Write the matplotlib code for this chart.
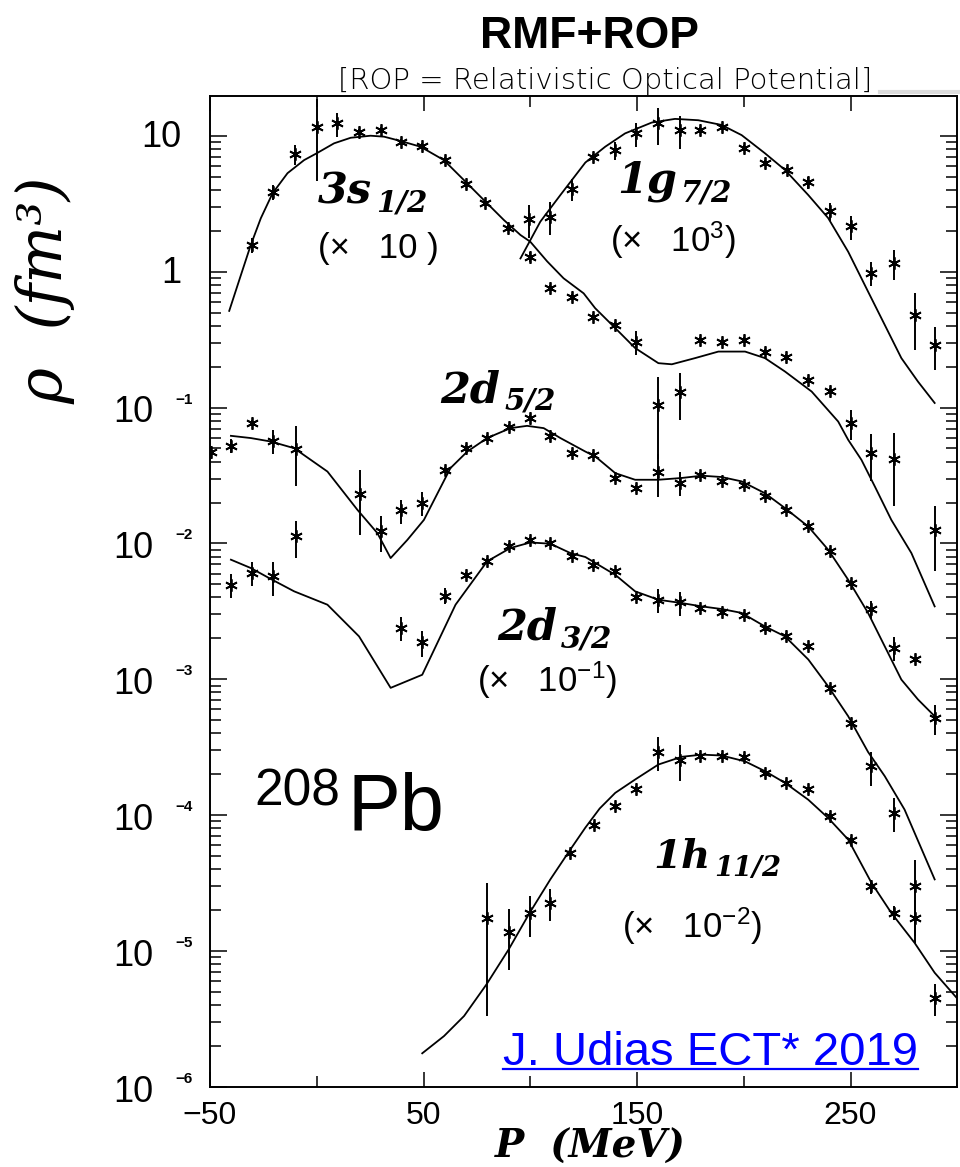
"""Momentum distributions of 208Pb shells: RMF+ROP curves against measured points."""

import matplotlib
matplotlib.use("Agg")
import matplotlib.pyplot as plt
import numpy as np
from matplotlib.lines import Line2D
from matplotlib.ticker import LogLocator, NullFormatter
from matplotlib.transforms import offset_copy

plt.rcParams["font.family"] = ["Liberation Sans", "DejaVu Sans"]
plt.rcParams["mathtext.fontset"] = "custom"
plt.rcParams["mathtext.rm"] = "Liberation Sans"
plt.rcParams["mathtext.it"] = "Liberation Sans:italic"
plt.rcParams["mathtext.bf"] = "Liberation Sans:bold"

# 3s1/2 (x 10)
s12_curve_p = [-41, -35.5, -30.9, -26.2, -20.7, -13.7, -5.9, 0, 8.1, 15.9, 25.2, 31.5, 39.3, 48.6,
               59.5, 68.9, 78.2, 87.6, 95.4, 100, 107.9, 115.6, 125, 130.4, 139.8, 149.1, 160,
               166.3, 177.2, 188.1, 200.6, 209.9, 219.3, 231.8, 244.2, 248.9, 255.1, 261.4, 269.1,
               278.5, 289.4]
s12_curve_rho = [0.514, 0.946, 1.57, 2.47, 3.77, 5.30, 6.62, 7.43, 8.79, 9.66, 10.0, 9.84, 9.14, 8.30,
                 6.62, 4.72, 3.37, 2.40, 1.86, 1.66, 1.19, 0.893, 0.692, 0.538, 0.384, 0.274, 0.212,
                 0.208, 0.231, 0.258, 0.258, 0.231, 0.184, 0.131, 0.0789, 0.0578, 0.0412, 0.0262,
                 0.0149, 0.00849, 0.00344]
s12_pts_p = [-30.5, -20.5, -10.3, 0, 9.4, 19.8, 29.9, 39.3, 49.1, 60, 69.7, 79, 89.6, 99.7, 109.4,
             119.5, 129.6, 139.8, 149.5, 160, 170.2, 179.5, 189.7, 200.2, 209.9, 219.6, 229.9, 240.3,
             250, 259.8, 270.4, 289.4]
s12_pts_rho = [1.57, 3.87, 7.29, 11.6, 12.3, 10.7, 11.0, 9.04, 8.43, 6.62, 4.40, 3.18, 2.11, 1.29,
               0.755, 0.649, 0.467, 0.406, 0.305, 0.105, 0.131, 0.315, 0.305, 0.315, 0.258, 0.237,
               0.160, 0.133, 0.0766, 0.0462, 0.0417, 0.0126]
s12_pts_err = [0.13, 0.13, 0.17, 0.6, 0.2, 0.05, 0.05, 0.05, 0.05, 0.05, 0.05, 0.05, 0.05, 0.08,
               0.05, 0.05, 0.05, 0.05, 0.2, 0.6, 0.38, 0.05, 0.05, 0.05, 0.05, 0.05, 0.05, 0.05,
               0.25, 0.38, 0.55, 0.5]

# 1g7/2 (x 10^3)
g72_curve_p = [95.4, 104.7, 114.1, 125.8, 135.1, 144.4, 156.9, 167.8, 178.7, 189.6, 199, 209.9,
               219.3, 230.2, 239.5, 248.9, 258.2, 266, 273.8, 281.6, 289.4]
g72_curve_rho = [1.25, 2.33, 3.66, 6.35, 8.30, 10.4, 12.5, 13.3, 13.0, 12.0, 10.1, 7.43, 5.60, 3.66,
                 2.48, 1.40, 0.713, 0.406, 0.231, 0.155, 0.108]
g72_pts_p = [99.6, 109.4, 119.5, 129.6, 139.8, 149.5, 160, 170.2, 179.6, 189.6, 200.2, 209.9, 220.1,
             229.9, 240.3, 250, 259.8, 270.4, 280, 289.7]
g72_pts_rho = [2.44, 2.54, 4.04, 7.01, 7.85, 10.4, 12.3, 11.0, 11.0, 11.6, 8.07, 6.27, 5.60, 4.54,
               2.77, 2.15, 0.973, 1.15, 0.481, 0.289]
g72_pts_err = [0.27, 0.27, 0.18, 0.05, 0.15, 0.2, 0.3, 0.28, 0.05, 0.05, 0.05, 0.05, 0.05, 0.1,
               0.15, 0.2, 0.2, 0.25, 0.45, 0.35]

# 2d5/2
d52_curve_p = [-40.2, -30.9, -21.5, -10.6, 5, 19, 28.4, 34.6, 42.4, 50.2, 62.6, 70.5, 79.8, 90.7,
               98.5, 106.3, 114.1, 125.8, 130.4, 139.8, 149.1, 160, 170.9, 180.3, 189.6, 199, 209.9,
               219.3, 230.2, 239.5, 248.9, 258.2, 266, 273.8, 281.6, 289.4]
d52_curve_rho = [0.0619, 0.0596, 0.0562, 0.0502, 0.0338, 0.0177, 0.0119, 0.0078, 0.0106, 0.0149,
                 0.0358, 0.0474, 0.0596, 0.0705, 0.0733, 0.0705, 0.0596, 0.0474, 0.0437, 0.0329,
                 0.0294, 0.0294, 0.0303, 0.0315, 0.0308, 0.0286, 0.0234, 0.0182, 0.0133, 0.0090,
                 0.0054, 0.00308, 0.00175, 0.000995, 0.00071, 0.000535]
d52_pts_p = [-49.5, -40.2, -30.5, -20.7, -9.8, 20.1, 29.9, 39.6, 49.4, 60, 69.7, 79.5, 89.9, 99.7,
             109.4, 119.5, 129.6, 139.8, 149.5, 160, 170.2, 179.5, 189.7, 200.2, 209.9, 219.6,
             229.9, 240.3, 250, 259.8, 270.4, 280, 289.4]
d52_pts_rho = [0.047, 0.0522, 0.0767, 0.0571, 0.0495, 0.0232, 0.01225, 0.0175, 0.0198, 0.0348,
               0.0502, 0.0596, 0.0724, 0.0836, 0.0612, 0.0462, 0.0449, 0.0303, 0.0255, 0.0337,
               0.0278, 0.0320, 0.0286, 0.0270, 0.0224, 0.0177, 0.0135, 0.00883, 0.00511, 0.00329,
               0.0017, 0.0014, 0.00052]
d52_pts_err = [0.05, 0.12, 0.05, 0.2, 0.47, 0.5, 0.29, 0.2, 0.2, 0.05, 0.05, 0.05, 0.05, 0.05,
               0.05, 0.05, 0.05, 0.05, 0.05, 0.35, 0.2, 0.05, 0.05, 0.05, 0.05, 0.05, 0.05, 0.05,
               0.05, 0.15, 0.2, 0.0, 0.25]

# 2d3/2 (x 10^-1)
d32_curve_p = [-40.2, -30.9, -21.5, -10.6, 5, 19.8, 34.6, 49.4, 65, 79.8, 90.7, 100, 109.4, 118.8,
               125.8, 139.8, 149.1, 160, 170.9, 180.3, 189.6, 199, 209.9, 219.3, 230.2, 239.5,
               248.9, 258.2, 266, 275.3, 289.4]
d32_curve_rho = [0.00759, 0.00659, 0.00547, 0.00444, 0.00354, 0.00207, 0.000865, 0.00108, 0.00354,
                 0.00738, 0.00925, 0.01016, 0.00995, 0.00849, 0.00794, 0.00587, 0.00444, 0.00385,
                 0.00364, 0.00344, 0.00329, 0.00308, 0.00245, 0.00207, 0.0014, 0.000889, 0.000535,
                 0.000292, 0.000194, 0.00011, 3.37e-5]
d32_pts_p = [-40.2, -30.5, -20.7, -9.8, 39.6, 49.4, 60, 69.7, 79.5, 89.9, 99.7, 109.4, 119.5, 129.6,
             139.8, 149.5, 160, 170.2, 179.6, 189.6, 200.2, 209.9, 219.6, 229.9, 240.3, 250, 259.8,
             270.4, 280]
d32_pts_rho = [0.00497, 0.00605, 0.00571, 0.01125, 0.00239, 0.00187, 0.00413, 0.00587, 0.00738,
               0.00951, 0.01064, 0.01007, 0.00802, 0.00697, 0.00622, 0.00401, 0.00385, 0.00368,
               0.00335, 0.00311, 0.00299, 0.00239, 0.0021, 0.00175, 0.000865, 0.000478, 0.000229,
               0.000104, 3.0e-5]
d32_pts_err = [0.2, 0.2, 0.28, 0.3, 0.2, 0.22, 0.13, 0.05, 0.05, 0.05, 0.05, 0.05, 0.05, 0.05,
               0.05, 0.05, 0.2, 0.2, 0.05, 0.05, 0.05, 0.05, 0.05, 0.0, 0.05, 0.05, 0.28, 0.28, 0.57]

# 1h11/2 (x 10^-2)
h112_curve_p = [49.4, 59.6, 69, 79.5, 89.9, 99.7, 109.4, 118.8, 125.8, 132.5, 139.8, 149.1, 160,
                170.9, 180.3, 189.6, 200.6, 209.9, 219.3, 230.2, 239.5, 248.9, 259.8, 269.1, 280,
                289.4, 300.3]
h112_curve_rho = [1.77e-6, 2.37e-6, 3.33e-6, 5.69e-6, 1.03e-5, 1.91e-5, 3.37e-5, 5.60e-5, 8.1e-5,
                  1.12e-4, 1.46e-4, 1.83e-4, 2.36e-4, 2.69e-4, 2.79e-4, 2.75e-4, 2.49e-4, 2.11e-4,
                  1.73e-4, 1.30e-4, 9.55e-5, 6.62e-5, 3.18e-5, 1.91e-5, 1.15e-5, 6.93e-6, 4.42e-6]
h112_pts_p = [79.5, 89.9, 99.7, 109.4, 118.8, 129.7, 139.8, 149.5, 160, 170.2, 179.5, 189.7, 200.2,
              209.9, 219.6, 229.9, 240.3, 250, 259.8, 270.4, 280, 289.4]
h112_pts_rho = [1.76e-5, 1.38e-5, 1.91e-5, 2.27e-5, 5.28e-5, 8.53e-5, 1.16e-4, 1.55e-4, 2.94e-4,
                2.54e-4, 2.75e-4, 2.75e-4, 2.69e-4, 2.03e-4, 1.73e-4, 1.55e-4, 9.93e-5, 6.55e-5,
                3.0e-5, 1.91e-5, 1.76e-5, 4.54e-6]
h112_pts_err = [0.81, 0.47, 0.33, 0.27, 0.05, 0.05, 0.05, 0.05, 0.28, 0.3, 0.05, 0.05, 0.05, 0.05,
                0.05, 0.0, 0.05, 0.05, 0.12, 0.12, 0.35, 0.27]

x_tick_values = [-50, 50, 150, 250]
x_tick_labels = ["\u221250", "50", "150", "250"]
x_minor_values = [0, 100, 200]
y_decades = list(range(-6, 2))

W, H = 960, 1167


def fx(px):
    return px / W


def fy(py):
    return 1 - py / H


fig = plt.figure(figsize=(W / 100, H / 100), dpi=100)
ax = fig.add_axes([fx(210), 80 / H, 747.3 / W, 991.3 / H])
renderer = fig.canvas.get_renderer()

shells = [
    (s12_curve_p, s12_curve_rho, s12_pts_p, s12_pts_rho, s12_pts_err),
    (g72_curve_p, g72_curve_rho, g72_pts_p, g72_pts_rho, g72_pts_err),
    (d52_curve_p, d52_curve_rho, d52_pts_p, d52_pts_rho, d52_pts_err),
    (d32_curve_p, d32_curve_rho, d32_pts_p, d32_pts_rho, d32_pts_err),
    (h112_curve_p, h112_curve_rho, h112_pts_p, h112_pts_rho, h112_pts_err),
]
for cp, crho, pp, prho, perr in shells:
    ax.plot(cp, crho, color="black", lw=1.3, solid_joinstyle="round")
    prho = np.asarray(prho)
    ax.errorbar(pp, prho, yerr=prho * np.asarray(perr), fmt="none", ecolor="black",
                elinewidth=1.4, capsize=0)
    ax.plot(pp, prho, ls="none", marker=(6, 2, 0), ms=9, mew=1.3, color="black")

ax.set_yscale("log")
ax.set_xlim(-50, 300)
ax.set_ylim(1e-6, 19.7)

for side in ax.spines.values():
    side.set_linewidth(1.4)

ax.set_xticks(x_tick_values)
ax.set_xticklabels(x_tick_labels)
ax.set_xticks(x_minor_values, minor=True)
ax.tick_params(axis="x", which="major", direction="in", length=11, width=1.1,
               top=True, bottom=True, labelsize=23, pad=10)
ax.tick_params(axis="x", which="minor", direction="in", length=8, width=1.1,
               top=True, bottom=True)

ax.set_yticks([10.0 ** k for k in y_decades])
ax.yaxis.set_minor_locator(LogLocator(base=10, subs=range(2, 10), numticks=20))
ax.yaxis.set_minor_formatter(NullFormatter())
ax.tick_params(axis="y", which="major", direction="in", length=12.5, width=1.1,
               left=True, right=True, labelleft=False)
ax.tick_params(axis="y", which="minor", direction="in", length=8, width=1.1,
               left=True, right=True)

# y tick labels: "10" with a detached bold exponent
ytr = ax.get_yaxis_transform()
for k in y_decades:
    value = 10.0 ** k
    if k >= 0:
        tr = offset_copy(ytr, fig=fig, x=-29, y=-2, units="dots")
        ax.text(0, value, "10" if k == 1 else "1", transform=tr, ha="right", va="center",
                fontsize=26)
    else:
        tr = offset_copy(ytr, fig=fig, x=-57, y=-5, units="dots")
        ax.text(0, value, "10", transform=tr, ha="right", va="center", fontsize=26)
        tr = offset_copy(ytr, fig=fig, x=-35, y=8, units="dots")
        ax.text(0, value, "\u2212%d" % -k, transform=tr, ha="left", va="center",
                fontsize=11, fontweight="bold")

# axis titles
fig.text(fx(46), fy(290), "\u03c1  (fm\u00b3)", rotation=90, ha="center", va="center",
         fontsize=44, style="italic", family="DejaVu Serif")
fig.text(fx(495), fy(1158), "P  (MeV)", ha="left", va="baseline", fontsize=28,
         style="italic", fontweight="bold", family="DejaVu Serif")


def shell_label(px, py, main, sub, size):
    serif = dict(style="italic", fontweight="bold", family="DejaVu Serif",
                 ha="left", va="baseline")
    t = fig.text(fx(px), fy(py), main, fontsize=size, **serif)
    bb = t.get_window_extent(renderer)
    fig.text((bb.x1 + 4) / W, fy(py + 8), sub, fontsize=size * 0.68, **serif)


# shell labels
shell_label(318, 203, "3s", "1/2", 31)
shell_label(617, 193, "1g", "7/2", 31)
shell_label(440, 402, "2d", "5/2", 31)
shell_label(497, 640, "2d", "3/2", 31)
shell_label(653, 868, "1h", "11/2", 29)

scale_kw = dict(ha="left", va="baseline", fontsize=25)
fig.text(fx(318), fy(258), "(\u00d7   10 )", **scale_kw)
fig.text(fx(610), fy(252), "(\u00d7   10$^{3}$)", **scale_kw)
fig.text(fx(477), fy(692), "(\u00d7   10$^{-1}$)", **scale_kw)
fig.text(fx(622), fy(938), "(\u00d7   10$^{-2}$)", **scale_kw)

# nucleus
fig.text(fx(254), fy(805), "208", fontsize=37, ha="left", va="baseline")
fig.text(fx(347), fy(830), "Pb", fontsize=57, ha="left", va="baseline")

# titles
fig.text(fx(589), fy(48), "RMF+ROP", ha="center", va="baseline", fontsize=32, fontweight="bold")
fig.text(fx(605), fy(89), "[ROP = Relativistic Optical Potential]", ha="center", va="baseline",
         fontsize=21, fontweight="light", family=["DejaVu Sans"])
fig.add_artist(Line2D([fx(880), fx(960)], [fy(92), fy(92)], color="#dcdcdc", lw=3))

# credit link
credit = fig.text(fx(503), fy(1065), "J. Udias ECT* 2019", fontsize=34, color="#0000ff",
                  ha="left", va="baseline")
bb = credit.get_window_extent(renderer)
fig.add_artist(Line2D([bb.x0 / W, bb.x1 / W], [fy(1069), fy(1069)], color="#0000ff", lw=1.6))

fig.savefig("out.png", dpi=100, facecolor="white")
